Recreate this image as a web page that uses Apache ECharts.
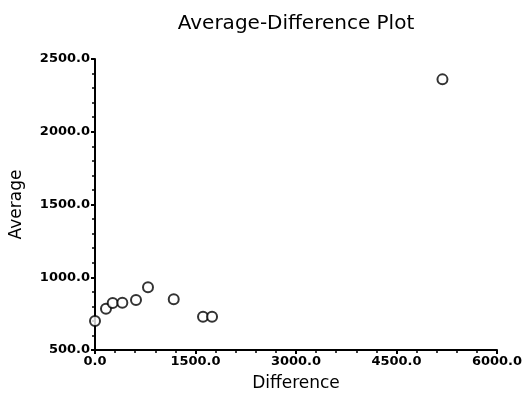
<!DOCTYPE html>
<html><head><meta charset="utf-8">
<script src="https://cdn.jsdelivr.net/npm/echarts@6/dist/echarts.min.js"></script>
<style>html,body{margin:0;padding:0;background:#fff}#c{width:526px;height:400px}</style>
</head><body><div id="c"></div>
<script>
const titleText = "Average-Difference Plot";
const xName = "Difference";
const yName = "Average";
const differences = [0, 164, 264, 408, 612, 791, 1175, 1612, 1747, 5186];
const averages = [699, 784, 823, 825, 843, 931, 848, 729, 729, 2360];

const font = "DejaVu Sans, Verdana, sans-serif";
const chart = echarts.init(document.getElementById('c'));
chart.setOption({
  animation: false,
  title: {text: titleText, left: 291, top: 9, textAlign: 'center',
    textStyle: {fontFamily: font, fontSize: 20, fontWeight: 'normal', color: '#000'}},
  grid: {left: 95, right: 29, top: 59, bottom: 50},
  xAxis: {type: 'value', min: 0, max: 6000, interval: 1500,
    name: xName, nameLocation: 'middle', nameGap: 25,
    nameTextStyle: {fontFamily: font, fontSize: 17, color: '#000'},
    axisLine: {lineStyle: {color: '#000', width: 2}},
    axisTick: {show: true, length: 4, lineStyle: {color: '#000', width: 2}},
    minorTick: {show: true, splitNumber: 5, length: 3, lineStyle: {color: '#000', width: 1.5}},
    splitLine: {show: false},
    axisLabel: {fontFamily: font, fontSize: 13, fontWeight: 'bold', color: '#000', margin: 5,
      formatter: v => v.toFixed(1)}},
  yAxis: {type: 'value', min: 500, max: 2500, interval: 500,
    name: yName, nameLocation: 'middle', nameGap: 70, nameRotate: 90,
    nameTextStyle: {fontFamily: font, fontSize: 17, color: '#000'},
    axisLine: {lineStyle: {color: '#000', width: 2}},
    axisTick: {show: true, length: 4, lineStyle: {color: '#000', width: 2}},
    minorTick: {show: true, splitNumber: 5, length: 3, lineStyle: {color: '#000', width: 1.5}},
    splitLine: {show: false},
    axisLabel: {fontFamily: font, fontSize: 13, fontWeight: 'bold', color: '#000', margin: 5,
      formatter: v => v.toFixed(1)}},
  series: [{type: 'scatter', symbol: 'circle', symbolSize: 10,
    itemStyle: {color: '#fff', borderColor: '#000', borderWidth: 2},
    data: differences.map((d, i) => [d, averages[i]])}]
});
</script></body></html>
